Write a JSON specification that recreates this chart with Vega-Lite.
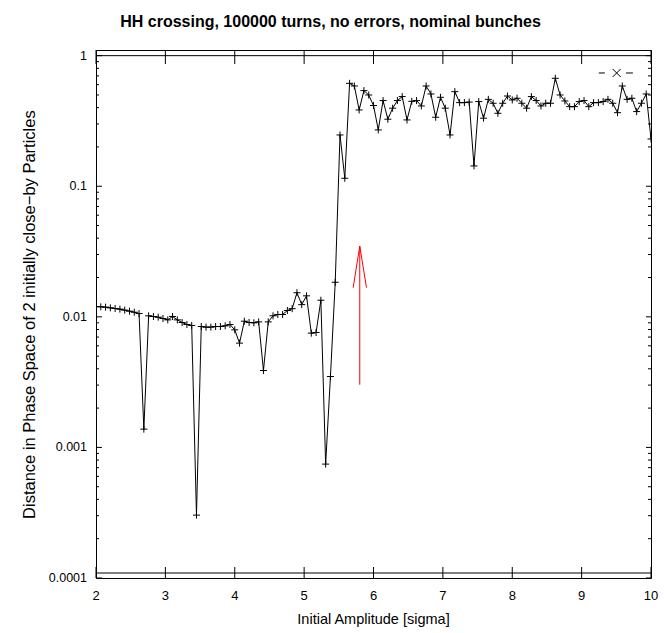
{
  "$schema": "https://vega.github.io/schema/vega-lite/v6.json",
  "width": 555,
  "height": 528,
  "autosize": {"type": "none"},
  "padding": {"left": 96, "top": 50, "right": 13, "bottom": 55},
  "background": "white",
  "config": {
    "view": {"stroke": "#000", "strokeWidth": 1},
    "font": "Liberation Sans Narrow, Liberation Sans, Arial, sans-serif"
  },
  "title": {
    "text": "HH  crossing, 100000 turns, no errors, nominal bunches",
    "fontSize": 16,
    "fontWeight": "bold",
    "font": "Liberation Sans Narrow, Liberation Sans, Arial, sans-serif",
    "color": "#000",
    "anchor": "middle",
    "dx": -43,
    "offset": 18
  },
  "datasets": {
    "xt": [{"v": 2}, {"v": 3}, {"v": 4}, {"v": 5}, {"v": 6}, {"v": 7}, {"v": 8}, {"v": 9}, {"v": 10}],
    "ymaj": [{"v": 0.0001}, {"v": 0.001}, {"v": 0.01}, {"v": 0.1}, {"v": 1}],
    "ymin": [
      {"v": 0.0002}, {"v": 0.0003}, {"v": 0.0004}, {"v": 0.0005}, {"v": 0.0006}, {"v": 0.0007}, {"v": 0.0008}, {"v": 0.0009},
      {"v": 0.002}, {"v": 0.003}, {"v": 0.004}, {"v": 0.005}, {"v": 0.006}, {"v": 0.007}, {"v": 0.008}, {"v": 0.009},
      {"v": 0.02}, {"v": 0.03}, {"v": 0.04}, {"v": 0.05}, {"v": 0.06}, {"v": 0.07}, {"v": 0.08}, {"v": 0.09},
      {"v": 0.2}, {"v": 0.3}, {"v": 0.4}, {"v": 0.5}, {"v": 0.6}, {"v": 0.7}, {"v": 0.8}, {"v": 0.9}
    ],
    "titles": [
      {"tx": 6, "ty": 0.000048, "label": "Initial Amplitude [sigma]", "kind": "x"},
      {"tx": 1.048, "ty": 0.0104, "label": "Distance in Phase Space of 2 initially close−by Particles", "kind": "y"}
    ],
    "curve": [
      {"amp": 2.0000, "dist": 0.0120},
      {"amp": 2.0690, "dist": 0.01193},
      {"amp": 2.1379, "dist": 0.01186},
      {"amp": 2.2069, "dist": 0.01172},
      {"amp": 2.2759, "dist": 0.01158},
      {"amp": 2.3448, "dist": 0.01145},
      {"amp": 2.4138, "dist": 0.01125},
      {"amp": 2.4828, "dist": 0.01105},
      {"amp": 2.5517, "dist": 0.01085},
      {"amp": 2.6207, "dist": 0.0106},
      {"amp": 2.6897, "dist": 0.00138},
      {"amp": 2.7586, "dist": 0.01018},
      {"amp": 2.8276, "dist": 0.01006},
      {"amp": 2.8966, "dist": 0.00994},
      {"amp": 2.9655, "dist": 0.00971},
      {"amp": 3.0345, "dist": 0.00948},
      {"amp": 3.1034, "dist": 0.01006},
      {"amp": 3.1724, "dist": 0.00948},
      {"amp": 3.2414, "dist": 0.00905},
      {"amp": 3.3103, "dist": 0.00874},
      {"amp": 3.3793, "dist": 0.00859},
      {"amp": 3.4483, "dist": 0.000303},
      {"amp": 3.5172, "dist": 0.00843},
      {"amp": 3.5862, "dist": 0.00834},
      {"amp": 3.6552, "dist": 0.00834},
      {"amp": 3.7241, "dist": 0.00843},
      {"amp": 3.7931, "dist": 0.00843},
      {"amp": 3.8621, "dist": 0.00853},
      {"amp": 3.9310, "dist": 0.00874},
      {"amp": 4.0000, "dist": 0.00795},
      {"amp": 4.0690, "dist": 0.00629},
      {"amp": 4.1379, "dist": 0.00926},
      {"amp": 4.2069, "dist": 0.00905},
      {"amp": 4.2759, "dist": 0.00900},
      {"amp": 4.3448, "dist": 0.00915},
      {"amp": 4.4138, "dist": 0.00388},
      {"amp": 4.4828, "dist": 0.00915},
      {"amp": 4.5517, "dist": 0.01018},
      {"amp": 4.6207, "dist": 0.01042},
      {"amp": 4.6897, "dist": 0.01042},
      {"amp": 4.7586, "dist": 0.01118},
      {"amp": 4.8276, "dist": 0.01155},
      {"amp": 4.8966, "dist": 0.0153},
      {"amp": 4.9655, "dist": 0.0124},
      {"amp": 5.0345, "dist": 0.01448},
      {"amp": 5.1034, "dist": 0.0075},
      {"amp": 5.1724, "dist": 0.00759},
      {"amp": 5.2414, "dist": 0.0134},
      {"amp": 5.3103, "dist": 0.000745},
      {"amp": 5.3793, "dist": 0.00349},
      {"amp": 5.4483, "dist": 0.0184},
      {"amp": 5.5172, "dist": 0.247},
      {"amp": 5.5862, "dist": 0.1151},
      {"amp": 5.6552, "dist": 0.614},
      {"amp": 5.7241, "dist": 0.586},
      {"amp": 5.7931, "dist": 0.384},
      {"amp": 5.8621, "dist": 0.540},
      {"amp": 5.9310, "dist": 0.500},
      {"amp": 6.0000, "dist": 0.415},
      {"amp": 6.0690, "dist": 0.270},
      {"amp": 6.1379, "dist": 0.453},
      {"amp": 6.2069, "dist": 0.326},
      {"amp": 6.2759, "dist": 0.396},
      {"amp": 6.3448, "dist": 0.453},
      {"amp": 6.4138, "dist": 0.486},
      {"amp": 6.4828, "dist": 0.322},
      {"amp": 6.5517, "dist": 0.447},
      {"amp": 6.6207, "dist": 0.453},
      {"amp": 6.6897, "dist": 0.412},
      {"amp": 6.7586, "dist": 0.586},
      {"amp": 6.8276, "dist": 0.509},
      {"amp": 6.8966, "dist": 0.3375},
      {"amp": 6.9655, "dist": 0.480},
      {"amp": 7.0345, "dist": 0.396},
      {"amp": 7.1034, "dist": 0.247},
      {"amp": 7.1724, "dist": 0.530},
      {"amp": 7.2414, "dist": 0.437},
      {"amp": 7.3103, "dist": 0.437},
      {"amp": 7.3793, "dist": 0.441},
      {"amp": 7.4483, "dist": 0.1431},
      {"amp": 7.5172, "dist": 0.445},
      {"amp": 7.5862, "dist": 0.332},
      {"amp": 7.6552, "dist": 0.463},
      {"amp": 7.7241, "dist": 0.432},
      {"amp": 7.7931, "dist": 0.362},
      {"amp": 7.8621, "dist": 0.432},
      {"amp": 7.9310, "dist": 0.491},
      {"amp": 8.0000, "dist": 0.458},
      {"amp": 8.0690, "dist": 0.472},
      {"amp": 8.1379, "dist": 0.432},
      {"amp": 8.2069, "dist": 0.396},
      {"amp": 8.2759, "dist": 0.486},
      {"amp": 8.3448, "dist": 0.453},
      {"amp": 8.4138, "dist": 0.412},
      {"amp": 8.4828, "dist": 0.432},
      {"amp": 8.5517, "dist": 0.432},
      {"amp": 8.6207, "dist": 0.671},
      {"amp": 8.6897, "dist": 0.500},
      {"amp": 8.7586, "dist": 0.450},
      {"amp": 8.8276, "dist": 0.407},
      {"amp": 8.8966, "dist": 0.407},
      {"amp": 8.9655, "dist": 0.445},
      {"amp": 9.0345, "dist": 0.453},
      {"amp": 9.1034, "dist": 0.407},
      {"amp": 9.1724, "dist": 0.437},
      {"amp": 9.2414, "dist": 0.437},
      {"amp": 9.3103, "dist": 0.445},
      {"amp": 9.3793, "dist": 0.463},
      {"amp": 9.4483, "dist": 0.432},
      {"amp": 9.5172, "dist": 0.366},
      {"amp": 9.5862, "dist": 0.586},
      {"amp": 9.6552, "dist": 0.463},
      {"amp": 9.7241, "dist": 0.472},
      {"amp": 9.7931, "dist": 0.373},
      {"amp": 9.8621, "dist": 0.432},
      {"amp": 9.9310, "dist": 0.509},
      {"amp": 10.0000, "dist": 0.23}
    ]
  },
  "layer": [
    {
      "data": {"name": "curve"},
      "mark": {"type": "line", "color": "#000", "strokeWidth": 1, "clip": true},
      "encoding": {
        "x": {"field": "amp", "type": "quantitative", "scale": {"domain": [2, 10], "nice": false, "zero": false}, "axis": null},
        "y": {"field": "dist", "type": "quantitative", "scale": {"type": "log", "domain": [0.0001, 1.105], "nice": false}, "axis": null}
      }
    },
    {
      "data": {"name": "curve"},
      "mark": {"type": "point", "shape": "M-1,0L1,0M0,-1L0,1", "filled": false, "size": 49, "strokeWidth": 1, "color": "#000", "opacity": 1, "clip": true},
      "encoding": {
        "x": {"field": "amp", "type": "quantitative", "axis": null},
        "y": {"field": "dist", "type": "quantitative", "axis": null}
      }
    },
    {
      "data": {"name": "xt"},
      "mark": {"type": "point", "shape": "M0,0L0,-1", "filled": false, "size": 484, "strokeWidth": 1, "color": "#000", "opacity": 1},
      "encoding": {
        "x": {"field": "v", "type": "quantitative", "axis": null},
        "y": {"datum": 0.0001, "type": "quantitative", "axis": null}
      }
    },
    {
      "data": {"name": "xt"},
      "mark": {"type": "point", "shape": "M0,0L0,1", "filled": false, "size": 784, "strokeWidth": 1, "color": "#000", "opacity": 1},
      "encoding": {
        "x": {"field": "v", "type": "quantitative", "axis": null},
        "y": {"datum": 1.105, "type": "quantitative", "axis": null}
      }
    },
    {
      "data": {"name": "ymaj"},
      "mark": {"type": "point", "shape": "M0,0L1,0", "filled": false, "size": 144, "strokeWidth": 1, "color": "#000", "opacity": 1},
      "encoding": {
        "y": {"field": "v", "type": "quantitative", "axis": null},
        "x": {"datum": 2, "type": "quantitative", "axis": null}
      }
    },
    {
      "data": {"name": "ymin"},
      "mark": {"type": "point", "shape": "M0,0L1,0", "filled": false, "size": 36, "strokeWidth": 1, "color": "#000", "opacity": 1},
      "encoding": {
        "y": {"field": "v", "type": "quantitative", "axis": null},
        "x": {"datum": 2, "type": "quantitative", "axis": null}
      }
    },
    {
      "data": {"name": "ymaj"},
      "mark": {"type": "point", "shape": "M0,0L-1,0", "filled": false, "size": 100, "strokeWidth": 1, "color": "#000", "opacity": 1},
      "encoding": {
        "y": {"field": "v", "type": "quantitative", "axis": null},
        "x": {"datum": 10, "type": "quantitative", "axis": null}
      }
    },
    {
      "data": {"name": "ymin"},
      "mark": {"type": "point", "shape": "M0,0L-1,0", "filled": false, "size": 36, "strokeWidth": 1, "color": "#000", "opacity": 1},
      "encoding": {
        "y": {"field": "v", "type": "quantitative", "axis": null},
        "x": {"datum": 10, "type": "quantitative", "axis": null}
      }
    },
    {
      "data": {"name": "xt"},
      "mark": {"type": "text", "color": "#000", "fontSize": 13, "align": "center", "baseline": "top", "dy": 12},
      "encoding": {
        "x": {"field": "v", "type": "quantitative", "axis": null},
        "y": {"datum": 0.0001, "type": "quantitative", "axis": null},
        "text": {"field": "v", "type": "quantitative", "format": "d"}
      }
    },
    {
      "data": {"name": "ymaj"},
      "mark": {"type": "text", "color": "#000", "fontSize": 12.5, "align": "right", "baseline": "middle", "dx": -9},
      "encoding": {
        "y": {"field": "v", "type": "quantitative", "axis": null},
        "x": {"datum": 2, "type": "quantitative", "axis": null},
        "text": {"field": "v", "type": "quantitative", "format": "~g"}
      }
    },
    {
      "data": {"name": "titles"},
      "transform": [{"filter": "datum.kind == 'x'"}],
      "mark": {"type": "text", "color": "#000", "fontSize": 14.5, "align": "center", "baseline": "middle"},
      "encoding": {
        "x": {"field": "tx", "type": "quantitative", "axis": null},
        "y": {"field": "ty", "type": "quantitative", "axis": null},
        "text": {"field": "label", "type": "nominal"}
      }
    },
    {
      "data": {"name": "titles"},
      "transform": [{"filter": "datum.kind == 'y'"}],
      "mark": {"type": "text", "color": "#000", "fontSize": 16.5, "align": "center", "baseline": "middle", "angle": 270},
      "encoding": {
        "x": {"field": "tx", "type": "quantitative", "axis": null},
        "y": {"field": "ty", "type": "quantitative", "axis": null},
        "text": {"field": "label", "type": "nominal"}
      }
    },
    {
      "data": {"values": [{"xa": 2, "xb": 10, "yv": 1}, {"xa": 2, "xb": 10, "yv": 0.0001092}]},
      "mark": {"type": "rule", "color": "#000", "strokeWidth": 1},
      "encoding": {
        "x": {"field": "xa", "type": "quantitative", "axis": null},
        "x2": {"field": "xb"},
        "y": {"field": "yv", "type": "quantitative", "axis": null}
      }
    },
    {
      "data": {"values": [
        {"xa": 5.802, "ya": 0.00302, "xb": 5.802, "yb": 0.0348},
        {"xa": 5.707, "ya": 0.01672, "xb": 5.802, "yb": 0.0348},
        {"xa": 5.899, "ya": 0.01672, "xb": 5.802, "yb": 0.0348}
      ]},
      "mark": {"type": "rule", "color": "#ff0000", "strokeWidth": 1},
      "encoding": {
        "x": {"field": "xa", "type": "quantitative", "axis": null},
        "y": {"field": "ya", "type": "quantitative", "axis": null},
        "x2": {"field": "xb"},
        "y2": {"field": "yb"}
      }
    },
    {
      "data": {"values": [
        {"xa": 9.248, "xb": 9.335, "yv": 0.737},
        {"xa": 9.638, "xb": 9.739, "yv": 0.737}
      ]},
      "mark": {"type": "rule", "color": "#000", "strokeWidth": 1},
      "encoding": {
        "x": {"field": "xa", "type": "quantitative", "axis": null},
        "x2": {"field": "xb"},
        "y": {"field": "yv", "type": "quantitative", "axis": null}
      }
    },
    {
      "data": {"values": [{"xv": 9.505, "yv": 0.737}]},
      "mark": {"type": "point", "shape": "M-1,-1L1,1M-1,1L1,-1", "filled": false, "size": 64, "strokeWidth": 1, "color": "#000", "opacity": 1},
      "encoding": {
        "x": {"field": "xv", "type": "quantitative", "axis": null},
        "y": {"field": "yv", "type": "quantitative", "axis": null}
      }
    }
  ]
}
